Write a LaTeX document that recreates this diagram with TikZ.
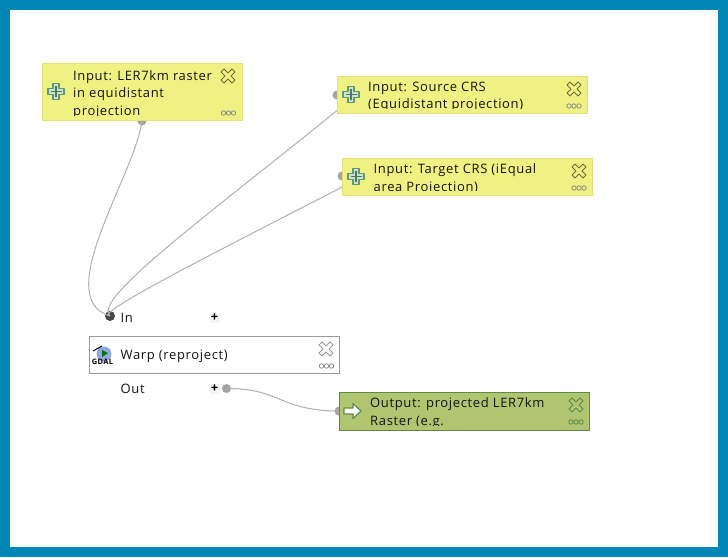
\documentclass[tikz,border=0pt]{standalone}
\usepackage{fontspec}
\setmainfont[LetterSpace=5]{Open Sans}
\definecolor{frameblue}{HTML}{0087B7}
\definecolor{inyellow}{HTML}{EFF183}
\definecolor{inborder}{HTML}{E6E07C}
\definecolor{outgreen}{HTML}{AFC570}
\definecolor{outborder}{HTML}{5F8A45}
\definecolor{wire}{HTML}{B0B0B0}
\definecolor{portgrey}{HTML}{A3A3A3}
\definecolor{ringgrey}{HTML}{9A9A9A}
\definecolor{crossgreen}{HTML}{5E9A70}
\tikzset{
  boxbase/.style={rectangle,anchor=north west,inner sep=0pt,outer sep=0pt,line width=.8pt},
  inbox/.style={boxbase,draw=inborder,fill=inyellow},
  outbox/.style={boxbase,draw=outborder,fill=outgreen},
  algbox/.style={boxbase,draw=ringgrey,fill=white},
  porta/.style={circle,inner sep=0pt,minimum size=9pt,fill=portgrey,draw=none},
  portin/.style={circle,inner sep=0pt,minimum size=10pt,fill=black!72,draw=none},
  conn/.style={draw=wire,line width=1pt},
  label/.style={anchor=north west,inner sep=0pt,font=\fontsize{13}{17.6}\selectfont,align=left,text=black!92},
  plain/.style={anchor=west,inner sep=0pt,font=\fontsize{13}{15}\selectfont,text=black!92},
  plusbox/.style={rectangle,fill=black!4,minimum size=10pt,inner sep=0pt,font=\fontsize{13}{13}\selectfont\bfseries}
}
\newcommand{\addicon}[1]{%
  \begin{scope}[shift={(#1)}]
    \draw[draw=crossgreen,fill=white!70!crossgreen,line width=1.5pt,line join=round]
      (-3,-8)--(3,-8)--(3,-3)--(8,-3)--(8,3)--(3,3)--(3,8)--(-3,8)--(-3,3)--(-8,3)--(-8,-3)--(-3,-3)--cycle;
    \draw[draw=crossgreen!80!black,line width=1.2pt] (-5.5,0)--(5.5,0) (0,-5.5)--(0,5.5);
  \end{scope}}
\newcommand{\delicon}[2]{%
  \begin{scope}[shift={(#1)}]
    \draw[draw=#2,fill=none,line width=.9pt,line join=round]
      (-7,-4)--(-4,-7)--(0,-3)--(4,-7)--(7,-4)--(3,0)--(7,4)--(4,7)--(0,3)--(-4,7)--(-7,4)--(-3,0)--cycle;
  \end{scope}}
\newcommand{\moreicon}[2]{%
  \begin{scope}[shift={(#1)}]
    \foreach \q in {-5,0,5}{\draw[draw=#2,line width=.8pt] (\q,0) circle (2.2);}
  \end{scope}}
\begin{document}
\begin{tikzpicture}[x=1pt,y=-1pt]
\useasboundingbox (0,0) rectangle (728,557);
\fill[frameblue] (0,0) rectangle (728,557);
\fill[white] (10,10) rectangle (718,547);

% ports
\node[porta] (p1) at (142,121) {};
\node[porta] (p2) at (337,95) {};
\node[porta] (p3) at (342,176) {};
\node[porta] (p4) at (339,411) {};
\node[porta] (pout) at (226.5,388.5) {};
\node[portin] (pin) at (110,316) {};
\coordinate (w2) at (345,104);
\coordinate (w3) at (350,183);

% connectors
\draw[conn] (p1.center) .. controls (135,175) and (50,298) .. (pin.center);
\draw[conn] (w2) .. controls (215,210) and (90,300) .. (pin.center);
\draw[conn] (w3) .. controls (230,245) and (90,315) .. (pin.center);
\draw[conn] (pout.center) .. controls (280,388) and (280,411) .. (p4.center);

% input 1
\node[inbox,minimum width=200.5pt,minimum height=57.5pt] (b1) at (42,63) {};
\begin{scope}
  \clip (b1.north west) rectangle ([yshift=5pt]b1.south east);
  \node[label] (t1) at (73,70) {Input: LER7km raster\\in equidistant\\projection};
\end{scope}
\addicon{56,91.5}
\delicon{228,76}{black!35!inyellow!70!black}
\moreicon{228.5,113}{black!45}

% input 2
\node[inbox,minimum width=250.5pt,minimum height=37pt] (b2) at (337,76) {};
\begin{scope}
  \clip (b2.north west) rectangle ([yshift=4.5pt]b2.south east);
  \node[label] (t2) at (368,81.5) {Input: Source CRS\\(Equidistant projection)};
\end{scope}
\addicon{351,94.5}
\delicon{574,89}{black!35!inyellow!70!black}
\moreicon{574,106}{black!45}

% input 3
\node[inbox,minimum width=250.5pt,minimum height=37pt] (b3) at (342,158) {};
\begin{scope}
  \clip (b3.north west) rectangle ([yshift=4.5pt]b3.south east);
  \node[label] (t3) at (373.5,163.5) {Input: Target CRS (iEqual\\area Projection)};
\end{scope}
\addicon{356,176.5}
\delicon{579,171}{black!35!inyellow!70!black}
\moreicon{579,188}{black!45}

% algorithm
\node[algbox,minimum width=250.5pt,minimum height=37pt] (alg) at (89,336) {};
\node[plain] (t4) at (120.5,356.5) {Warp (reproject)};
\fill[cyan!45!blue!45] (104,354) circle (7.5);
\fill[green!45!black] (102,350) -- (108,353) -- (102,357) -- cycle;
\draw[black,line width=1pt] (93,351) -- (102,346);
\node[inner sep=0pt,font=\fontsize{7.5}{8}\selectfont\bfseries] (gd) at (102.5,361.5) {GDAL};
\delicon{326,349}{black!40}
\moreicon{326.5,366}{black!45}

\node[plain] (lin) at (120.5,318) {In};
\node[plain] (lout) at (120.5,389) {Out};
\node[plusbox] (pl1) at (214.5,318) {+};
\node[plusbox] (pl2) at (214.5,388.5) {+};

% output
\node[outbox,minimum width=250pt,minimum height=38pt] (b5) at (339.5,392) {};
\begin{scope}
  \clip (b5.north west) rectangle ([yshift=5pt]b5.south east);
  \node[label] (t5) at (370,397.5) {Output: projected LER7km\\Raster (e.g.};
\end{scope}
\draw[draw=outborder,fill=white,line width=1.2pt,line join=round]
  (344,408)--(353,408)--(353,403.5)--(361,411)--(353,418.5)--(353,414)--(344,414)--cycle;
\delicon{576,405}{outborder}
\moreicon{576,422}{outborder}
\end{tikzpicture}
\end{document}
